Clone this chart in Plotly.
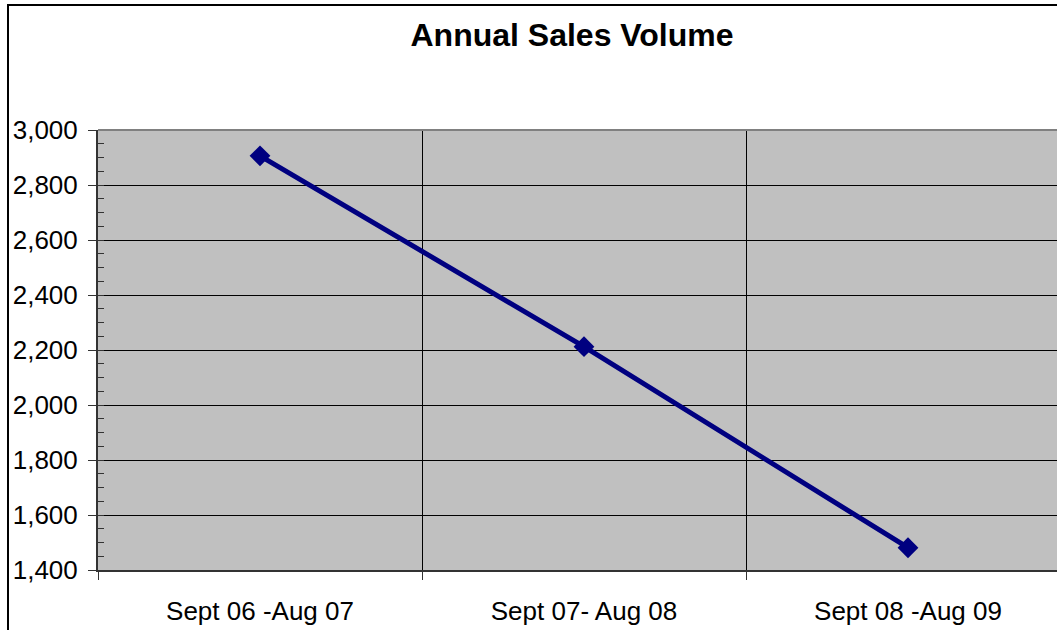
import plotly.graph_objects as go

categories = ["Sept 06 -Aug 07", "Sept 07- Aug 08", "Sept 08 -Aug 09"]
sales_volume = [2906, 2212, 1481]
y_tick_values = [1400, 1600, 1800, 2000, 2200, 2400, 2600, 2800, 3000]
y_tick_labels = ["1,400", "1,600", "1,800", "2,000", "2,200", "2,400", "2,600", "2,800", "3,000"]

W, H = 1057, 630
L, R, T, B = 98, 0, 130, 60
pw = W - L - R
ph = H - T - B

x_idx = list(range(len(categories)))

fig = go.Figure()
fig.add_trace(go.Scatter(
    x=x_idx, y=sales_volume, mode="lines+markers",
    line=dict(color="#000080", width=5),
    marker=dict(symbol="diamond", size=16, color="#000080"),
    showlegend=False, hoverinfo="skip",
))

font = "Liberation Sans, Arial, sans-serif"

fig.update_layout(
    width=W, height=H,
    margin=dict(l=L, r=R, t=T, b=B),
    paper_bgcolor="white",
    plot_bgcolor="#c0c0c0",
    font=dict(family=font, size=26, color="black"),
    title=dict(
        text="<b>Annual Sales Volume</b>",
        font=dict(family=font, size=32, color="black"),
        xref="paper", x=(572 - L) / pw, xanchor="center",
        yref="container", y=1 - 35 / H, yanchor="middle",
    ),
    xaxis=dict(
        range=[-0.5, -0.5 + pw / 324.0],
        tickmode="array", tickvals=x_idx, ticktext=categories,
        ticks="", showgrid=False, zeroline=False,
        showline=True, linecolor="#333333", linewidth=2,
        ticklabelstandoff=17,
        tickfont=dict(family=font, size=26, color="black"),
        minor=dict(tick0=0.5, dtick=1, ticks="outside", ticklen=8,
                   tickcolor="#333333", tickwidth=1,
                   showgrid=True, gridcolor="black", gridwidth=1),
        fixedrange=True,
    ),
    yaxis=dict(
        range=[1400, 3000],
        tickmode="array", tickvals=y_tick_values, ticktext=y_tick_labels,
        ticks="outside", ticklen=8, tickcolor="#333333", tickwidth=1,
        showgrid=True, gridcolor="black", gridwidth=1,
        zeroline=False,
        showline=True, linecolor="#333333", linewidth=2,
        ticklabelstandoff=5,
        tickfont=dict(family=font, size=26, color="black"),
        minor=dict(dtick=50, tick0=1400, ticks="inside", ticklen=6,
                   tickcolor="#333333", tickwidth=1, showgrid=False),
        fixedrange=True,
    ),
)

# top border of plot area (gray)
fig.add_shape(type="line", xref="paper", yref="paper",
              x0=0, x1=1, y0=1, y1=1,
              line=dict(color="#808080", width=2), layer="above")

# outer chart border
fig.add_shape(type="rect", xref="paper", yref="paper",
              x0=(8 - L) / pw, x1=1.2,
              y0=-0.5, y1=1 + (T - 5) / ph,
              line=dict(color="black", width=2), fillcolor="rgba(0,0,0,0)",
              layer="above")

fig.write_html("out.html", config={"displayModeBar": False},
               post_script="document.body.style.margin='0';document.body.style.overflow='hidden';")
